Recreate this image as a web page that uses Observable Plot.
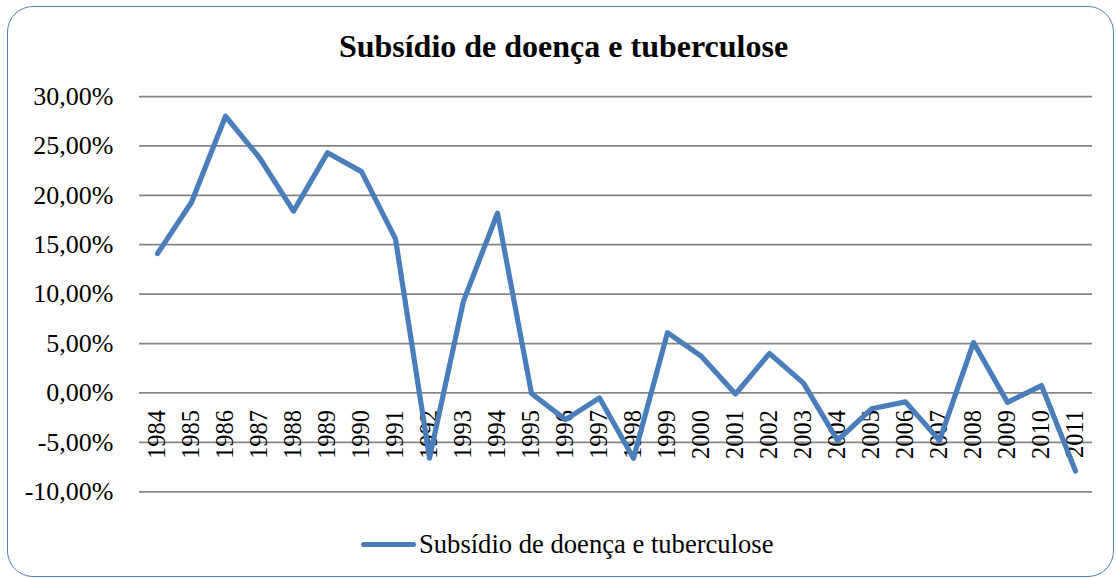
<!DOCTYPE html>
<html>
<head>
<meta charset="utf-8">
<script src="https://cdn.jsdelivr.net/npm/d3@7"></script>
<script src="https://cdn.jsdelivr.net/npm/@observablehq/plot@0.6"></script>
<style>
  html, body { margin: 0; padding: 0; background: #fff; }
  #wrap { position: relative; width: 1116px; height: 578px; overflow: hidden; background: #fff; font-family: "Liberation Serif", "Times New Roman", serif; }
  #frame { position: absolute; left: 7px; top: 6px; width: 1107px; height: 571px; box-sizing: border-box; border: 1.5px solid #4F81BD; border-radius: 26px; }
  #title { position: absolute; left: 0; top: 30px; width: 1127px; text-align: center; font-size: 32px; font-weight: bold; line-height: 32px; color: #000; }
  #chart { position: absolute; left: 0; top: 70px; }
  #legend { position: absolute; left: 361px; top: 529px; height: 30px; display: flex; align-items: center; font-size: 26.6px; line-height: 30px; color: #000; }
  #legend .swatch { display: inline-block; width: 55px; height: 5px; border-radius: 3px; background: #4A7EBB; margin-right: 3px; }
</style>
</head>
<body>
<div id="wrap">
  <div id="frame"></div>
  <div id="title">Subsídio de doença e tuberculose</div>
  <div id="chart"></div>
  <div id="legend"><span class="swatch"></span><span>Subsídio de doença e tuberculose</span></div>
</div>
<script>
const years = ["1984","1985","1986","1987","1988","1989","1990","1991","1992","1993","1994","1995","1996","1997","1998","1999","2000","2001","2002","2003","2004","2005","2006","2007","2008","2009","2010","2011"];
const values = [14.1, 19.3, 28.0, 23.8, 18.4, 24.3, 22.4, 15.6, -6.6, 9.3, 18.2, -0.05, -2.7, -0.5, -6.6, 6.1, 3.7, -0.1, 4.0, 1.0, -4.8, -1.6, -0.9, -4.8, 5.1, -0.95, 0.75, -7.9];
const yTicks = [-0.10, -0.05, 0, 0.05, 0.10, 0.15, 0.20, 0.25, 0.30];
const seriesName = "Subsídio de doença e tuberculose";

const data = years.map((y, i) => ({year: y, value: values[i] / 100, series: seriesName}));
const fmt = d => (d * 100).toFixed(2).replace(".", ",") + "%";

const chart = Plot.plot({
  width: 1116,
  height: 445,
  marginLeft: 139,
  marginRight: 24,
  marginTop: 26,
  marginBottom: 23.7,
  style: {fontFamily: "Liberation Serif, Times New Roman, serif", fontSize: "26px", color: "#000", background: "transparent", overflow: "visible"},
  x: {type: "point", domain: years, axis: null},
  y: {domain: [-0.10, 0.30], axis: null},
  marks: [
    Plot.ruleY(yTicks, {stroke: "#858585", strokeWidth: 1.75}),
    Plot.axisY({ticks: yTicks, tickFormat: fmt, tickSize: 0, tickPadding: 26, fontSize: 26, label: null}),
    Plot.text(years, {x: d => d, y: () => 0, text: d => d, rotate: -90, textAnchor: "end", dy: 17, fontSize: 24.5, fill: "#000"}),
    Plot.line(data, {x: "year", y: "value", stroke: "#4A7EBB", strokeWidth: 5.2, strokeLinejoin: "round", strokeLinecap: "round"})
  ]
});
document.getElementById("chart").appendChild(chart);
</script>
</body>
</html>
